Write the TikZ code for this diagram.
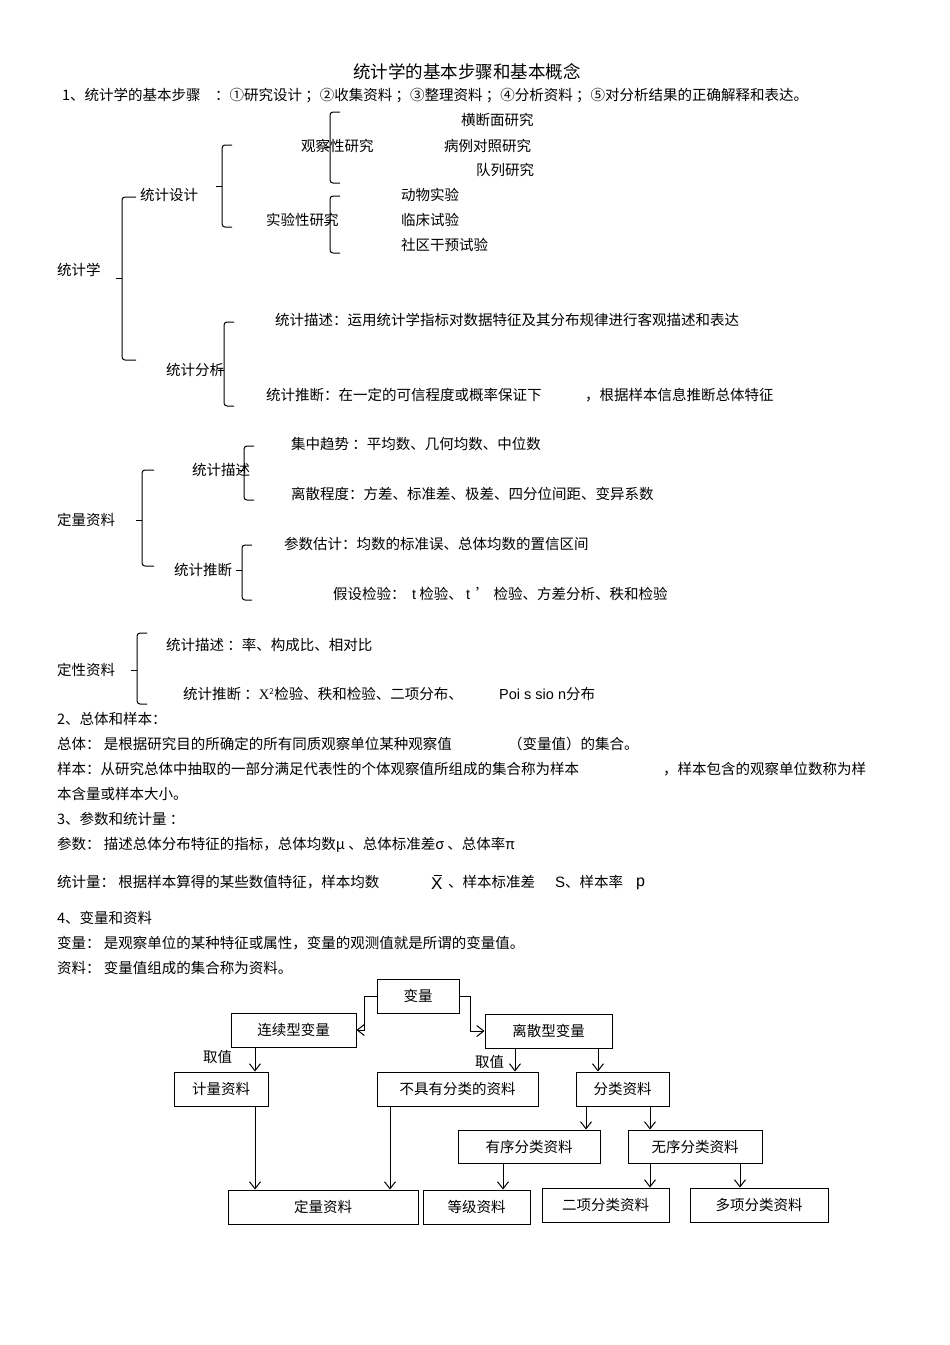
\documentclass[tikz,border=0pt]{standalone}
\usepackage{fontspec}
\setmainfont{Noto Sans CJK SC}
\newfontfamily\lat{Liberation Sans}
\usetikzlibrary{arrows.meta}
\newcommand\brc[5]{\draw[brcline] (#1+#5,#2) -- (#1,#2) -- (#1,#3) -- (#1+#5,#3); \draw[brcline] (#1,#4) -- (#1-6,#4);}
\begin{document}
\begin{tikzpicture}[x=1pt,y=-1pt,
  txt/.style={anchor=west,inner sep=0pt,font=\fontsize{14.5}{16}\selectfont},
  brcline/.style={line width=1pt,rounded corners=3pt},
  box/.style={draw,line width=1pt,inner sep=0pt,font=\fontsize{14.5}{16}\selectfont},
  arr/.style={line width=1pt,-{Straight Barb[length=7pt,width=11pt]}}]
\fill[white] (0,0) rectangle (950,1345);
\useasboundingbox (0,0) rectangle (950,1345);
\node[font=\fontsize{17.5}{19}\selectfont,inner sep=0pt] (title) at (467,72) {统计学的基本步骤和基本概念};
\node[txt] (l1) at (62,96) {1、统计学的基本步骤\quad ：①研究设计 ；②收集资料 ；③整理资料 ；④分析资料 ；⑤对分析结果的正确解释和表达。};
\node[txt] (a1) at (461,120) {横断面研究};
\node[txt] (a2) at (301,146) {观察性研究};
\node[txt] (a3) at (444,146) {病例对照研究};
\node[txt] (a4) at (476,170) {队列研究};
\node[txt] (a5) at (140,195) {统计设计};
\node[txt] (a6) at (401,195) {动物实验};
\node[txt] (a7) at (266,220) {实验性研究};
\node[txt] (a8) at (401,220) {临床试验};
\node[txt] (a9) at (401,245) {社区干预试验};
\node[txt] (a10) at (57,270) {统计学};
\node[txt] (b1) at (275,320) {统计描述：运用统计学指标对数据特征及其分布规律进行客观描述和表达};
\node[txt] (b2) at (166,370) {统计分析};
\node[txt] (b3) at (266,395) {统计推断：在一定的可信程度或概率保证下};
\node[txt] (b4) at (585,395) {，根据样本信息推断总体特征};
\node[txt] (c1) at (291,444) {集中趋势 ：平均数、几何均数、中位数};
\node[txt] (c2) at (192,470) {统计描述};
\node[txt] (c3) at (291,494) {离散程度：方差、标准差、极差、四分位间距、变异系数};
\node[txt] (c4) at (57,520) {定量资料};
\node[txt] (c5) at (284,544) {参数估计：均数的标准误、总体均数的置信区间};
\node[txt] (c6) at (174,570) {统计推断};
\node[txt] (c7) at (333,594) {假设检验：\ \ {\lat t} 检验、 {\lat t} \,' 检验、方差分析、秩和检验};
\node[txt] (d1) at (166,645) {统计描述 ：率、构成比、相对比};
\node[txt] (d2) at (57,670) {定性资料};
\node[txt] (d3) at (183,694) {统计推断 ：{\fontspec{Liberation Serif}X}\textsuperscript{\fontsize{8}{8}\selectfont 2}检验、秩和检验、二项分布、};
\node[txt] (d4) at (499,694) {{\lat Poi s sio n}分布};
\node[txt] (e1) at (57,719) {2、总体和样本：};
\node[txt] (e2) at (57,744) {总体： 是根据研究目的所确定的所有同质观察单位某种观察值};
\node[txt] (e3) at (508,744) {（变量值）的集合。};
\node[txt] (e4) at (57,769) {样本：从研究总体中抽取的一部分满足代表性的个体观察值所组成的集合称为样本};
\node[txt] (e5) at (663,769) {，样本包含的观察单位数称为样};
\node[txt] (e6) at (57,794) {本含量或样本大小。};
\node[txt] (e7) at (57,819) {3、参数和统计量 ：};
\node[txt] (e8) at (57,845) {参数： 描述总体分布特征的指标，总体均数μ 、总体标准差σ 、总体率π};
\node[txt] (e9) at (57,882) {统计量： 根据样本算得的某些数值特征，样本均数};
\node[txt,font=\fontsize{17}{18}\selectfont\lat] (e10) at (431,882) {X\llap{\rule[13pt]{8pt}{1pt}\hspace{1pt}}};
\node[txt] (e11) at (448,882) {、样本标准差};
\node[txt] (e12) at (555,882) {{\fontsize{15}{16}\selectfont\lat S}、样本率};
\node[txt,font=\fontsize{16}{17}\selectfont\lat] (e13) at (636,884) {p};
\node[txt] (e14) at (57,918) {4、变量和资料};
\node[txt] (e15) at (57,943) {变量： 是观察单位的某种特征或属性，变量的观测值就是所谓的变量值。};
\node[txt] (e16) at (57,968) {资料： 变量值组成的集合称为资料。};
% braces
\brc{122}{197}{360}{278}{14}
\brc{222}{145}{227}{186}{10}
\brc{330}{112}{183}{147}{10}
\brc{330}{196}{253}{222}{10}
\brc{224}{322}{406}{370}{10}
\brc{244}{446}{500}{470}{10}
\brc{142}{470}{566}{520}{12}
\brc{242}{545}{600}{570}{10}
\brc{137}{633}{704}{670}{10}
% flowchart
\node[box,minimum width=82pt,minimum height=34pt] (v) at (418,996) {变量};
\node[box,minimum width=125pt,minimum height=34pt] (cont) at (293.5,1030) {连续型变量};
\node[box,minimum width=127pt,minimum height=34pt] (disc) at (548.5,1031) {离散型变量};
\node[box,minimum width=94pt,minimum height=34pt] (meas) at (221,1089) {计量资料};
\node[box,minimum width=161pt,minimum height=34pt] (nocl) at (457.5,1089) {不具有分类的资料};
\node[box,minimum width=93pt,minimum height=34pt] (cls) at (622.5,1089) {分类资料};
\node[box,minimum width=142pt,minimum height=33pt] (ord) at (529,1146.5) {有序分类资料};
\node[box,minimum width=134pt,minimum height=33pt] (unord) at (695,1146.5) {无序分类资料};
\node[box,minimum width=190pt,minimum height=34pt] (quant) at (323,1207) {定量资料};
\node[box,minimum width=107pt,minimum height=34pt] (grade) at (476.5,1207) {等级资料};
\node[box,minimum width=127pt,minimum height=34pt] (bin) at (605.5,1205) {二项分类资料};
\node[box,minimum width=138pt,minimum height=34pt] (multi) at (759,1205) {多项分类资料};
\node[txt] (q1) at (203,1057) {取值};
\node[txt] (q2) at (475,1062) {取值};
\coordinate (x1) at (255,0);
\coordinate (x2) at (515,0);
\coordinate (x3) at (598,0);
\coordinate (x4) at (390,0);
\coordinate (x5) at (586,0);
\coordinate (x6) at (650,0);
\coordinate (x7) at (503,0);
\coordinate (x8) at (740,0);
\draw[arr] (v.west) -| ++(-12,0) |- (cont.east);
\draw[arr] (v.east) -| ++(11,0) |- (disc.west);
\draw[arr] (cont.south -| x1) -- (meas.north -| x1);
\draw[arr] (disc.south -| x2) -- (nocl.north -| x2);
\draw[arr] (disc.south -| x3) -- (cls.north -| x3);
\draw[arr] (meas.south -| x1) -- (quant.north -| x1);
\draw[arr] (nocl.south -| x4) -- (quant.north -| x4);
\draw[arr] (cls.south -| x5) -- (ord.north -| x5);
\draw[arr] (cls.south -| x6) -- (unord.north -| x6);
\draw[arr] (ord.south -| x7) -- (grade.north -| x7);
\draw[arr] (unord.south -| x6) -- (bin.north -| x6);
\draw[arr] (unord.south -| x8) -- (multi.north -| x8);
\end{tikzpicture}
\end{document}
